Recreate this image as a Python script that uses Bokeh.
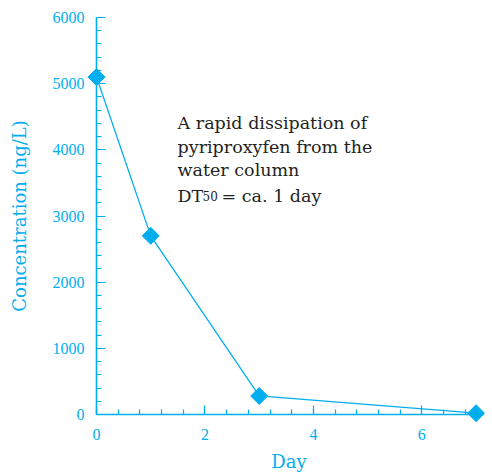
import math
from bokeh.plotting import figure
from bokeh.models import Range1d, SingleIntervalTicker, Label, ColumnDataSource
from bokeh.embed import file_html
from bokeh.resources import INLINE

# Measured pyriproxyfen concentration in the water column
days = [0, 1, 3, 7]
concentration = [5100, 2700, 280, 20]

x_ticks_interval = 2
y_ticks_interval = 1000

CYAN = "#00AEEF"
INK = "#231F20"
NUM_FONT = "Liberation Serif"
TEXT_FONT = "DejaVu Serif"

src = ColumnDataSource(data=dict(day=days, conc=concentration))

p = figure(
    width=492, height=474,
    x_range=Range1d(0, 7.1), y_range=Range1d(0, 6000),
    output_backend="svg", toolbar_location=None,
    min_border_left=96, min_border_right=11, min_border_top=17, min_border_bottom=59,
)
p.outline_line_color = None
p.grid.visible = False
p.background_fill_color = "white"
p.border_fill_color = "white"

for ax in (p.xaxis[0], p.yaxis[0]):
    ax.axis_line_color = CYAN
    ax.axis_line_width = 1.6
    ax.major_tick_line_color = CYAN
    ax.minor_tick_line_color = CYAN
    ax.major_tick_line_width = 1.2
    ax.minor_tick_line_width = 1.2
    ax.major_tick_out = 0
    ax.minor_tick_out = 0
    ax.major_tick_in = 9
    ax.minor_tick_in = 5
    ax.major_label_text_color = CYAN
    ax.major_label_text_font = NUM_FONT
    ax.major_label_text_font_size = "16px"
    ax.axis_label_text_color = CYAN
    ax.axis_label_text_font = TEXT_FONT
    ax.axis_label_text_font_size = "18px"
    ax.axis_label_text_font_style = "normal"
    ax.major_label_standoff = 12

p.xaxis[0].ticker = SingleIntervalTicker(interval=x_ticks_interval, num_minor_ticks=5)
p.yaxis[0].ticker = SingleIntervalTicker(interval=y_ticks_interval, num_minor_ticks=5)
p.xaxis[0].axis_label = "Day"
p.yaxis[0].axis_label = "Concentration (ng/L)"
p.xaxis[0].major_label_standoff = 14
p.xaxis[0].axis_label_standoff = 8
p.yaxis[0].axis_label_standoff = 20

p.line("day", "conc", source=src, line_color=CYAN, line_width=1.3)
p.scatter("day", "conc", source=src, marker="square", size=12, angle=math.pi / 4,
          fill_color=CYAN, line_color=CYAN, level="overlay")

# annotation text
lines = ["A rapid dissipation of", "pyriproxyfen from the", "water column"]
ys = [4400, 4050, 3690]
for t, yy in zip(lines, ys):
    p.add_layout(Label(x=1.495, y=yy, text=t, text_font=TEXT_FONT, text_font_size="17.5px",
                       text_color=INK, text_baseline="alphabetic"))
dt_y = 3295
p.add_layout(Label(x=1.495, y=dt_y, text="DT", text_font=TEXT_FONT, text_font_size="17.5px",
                   text_color=INK, text_baseline="alphabetic"))
p.add_layout(Label(x=1.495, y=dt_y, x_offset=25, text="50", text_font=TEXT_FONT,
                   text_font_size="12px", text_color=INK, text_baseline="alphabetic"))
p.add_layout(Label(x=1.495, y=dt_y, x_offset=44, text="= ca. 1 day", text_font=TEXT_FONT,
                   text_font_size="17.5px", text_color=INK, text_baseline="alphabetic"))

open("out.html", "w").write(file_html(p, INLINE))
